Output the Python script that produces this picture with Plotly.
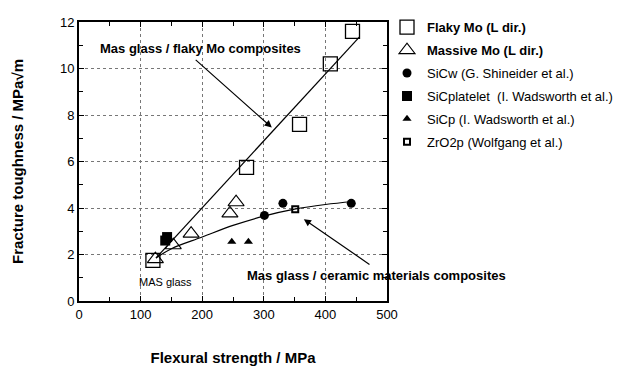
import plotly.graph_objects as go

# ---- data ----
flaky_x = [120, 272, 358, 408, 444]
flaky_y = [1.75, 5.75, 7.6, 10.2, 11.6]

massive_x = [124, 153, 182, 245, 255]
massive_y = [1.8, 2.4, 2.9, 3.77, 4.25]

sicw_x = [301, 331, 442]
sicw_y = [3.68, 4.2, 4.2]

sicplt_x = [140, 143]
sicplt_y = [2.6, 2.75]

sicp_x = [248, 275]
sicp_y = [2.55, 2.55]

zro2_x = [351]
zro2_y = [3.95]

flaky_fit_x = [125, 455]
flaky_fit_y = [1.85, 11.35]

ceramic_fit_x = [125, 150, 200, 250, 300, 350, 400, 445]
ceramic_fit_y = [1.85, 2.25, 2.75, 3.25, 3.65, 3.95, 4.15, 4.28]

x_ticks = [0, 100, 200, 300, 400, 500]
y_ticks = [0, 2, 4, 6, 8, 10, 12]

FONT = "Liberation Sans, Arial, sans-serif"

fig = go.Figure()

fig.add_trace(go.Scatter(x=flaky_fit_x, y=flaky_fit_y, mode="lines",
                         line=dict(color="black", width=1.2), showlegend=False, hoverinfo="skip"))
fig.add_trace(go.Scatter(x=ceramic_fit_x, y=ceramic_fit_y, mode="lines",
                         line=dict(color="black", width=1.2, shape="spline"), showlegend=False, hoverinfo="skip"))

fig.add_trace(go.Scatter(x=flaky_x, y=flaky_y, mode="markers", name="<b>Flaky Mo (L dir.)</b>",
                         legendgroup="g1",
                         marker=dict(symbol="square-open", size=14, color="black", line=dict(width=1.3))))
fig.add_trace(go.Scatter(x=massive_x, y=massive_y, mode="markers", name="<b>Massive Mo (L dir.)</b>",
                         legendgroup="g2",
                         marker=dict(symbol="triangle-up-open", size=14, color="black", line=dict(width=1.1))))
fig.add_trace(go.Scatter(x=sicw_x, y=sicw_y, mode="markers", name="SiCw (G. Shineider et al.)",
                         legendgroup="g3",
                         marker=dict(symbol="circle", size=9, color="black")))
fig.add_trace(go.Scatter(x=sicplt_x, y=sicplt_y, mode="markers", name="SiCplatelet  (I. Wadsworth et al.)",
                         legendgroup="g4",
                         marker=dict(symbol="square", size=10, color="black")))
fig.add_trace(go.Scatter(x=sicp_x, y=sicp_y, mode="markers", name="SiCp (I. Wadsworth et al.)",
                         legendgroup="g5",
                         marker=dict(symbol="triangle-up", size=8, color="black")))
fig.add_trace(go.Scatter(x=zro2_x, y=zro2_y, mode="markers", name="ZrO2p (Wolfgang et al.)",
                         legendgroup="g6",
                         marker=dict(symbol="square-open", size=6, color="black", line=dict(width=2))))

axis_common = dict(
    showline=True, linecolor="black", linewidth=2, mirror="allticks",
    ticks="inside", ticklen=5, tickcolor="black", tickwidth=1,
    showgrid=True, gridcolor="#777", griddash="dot", gridwidth=1,
    zeroline=False, automargin=False,
    tickfont=dict(family=FONT, size=13, color="black"),
)

fig.update_xaxes(range=[0, 500], tickvals=x_ticks, **axis_common,
                 minor=dict(ticks="inside", dtick=50, ticklen=4, tickcolor="black", showgrid=False),
                 title=dict(text="<b>Flexural strength / MPa</b>", standoff=36,
                            font=dict(family=FONT, size=15, color="black")))
fig.update_yaxes(range=[0, 12], tickvals=y_ticks, **axis_common,
                 minor=dict(ticks="inside", dtick=1, ticklen=4, tickcolor="black", showgrid=False),
                 title=dict(text="<b>Fracture toughness / MPa√m</b>", standoff=33,
                            font=dict(family=FONT, size=15, color="black")))

ann_font_b = dict(family=FONT, size=13, color="black")
fig.add_annotation(x=197, y=10.85, text="<b>Mas glass / flaky Mo composites</b>", showarrow=False,
                   font=ann_font_b, xanchor="center", yanchor="middle")
fig.add_annotation(x=313, y=7.46, ax=187, ay=10.43, axref="x", ayref="y", text="",
                   showarrow=True, arrowhead=2, arrowsize=1.2, arrowwidth=1.2, arrowcolor="black")
fig.add_annotation(x=269, y=1.1, text="<b>Mas glass / ceramic materials composites</b>", showarrow=False,
                   font=ann_font_b, xanchor="left", yanchor="middle")
fig.add_annotation(x=365, y=3.52, ax=474, ay=1.53, axref="x", ayref="y", text="",
                   showarrow=True, arrowhead=2, arrowsize=1.2, arrowwidth=1.2, arrowcolor="black")
fig.add_annotation(x=140, y=0.8, text="MAS glass", showarrow=False,
                   font=dict(family=FONT, size=11, color="black"))

fig.update_layout(
    width=630, height=366,
    margin=dict(l=79, r=241, t=18, b=65),
    plot_bgcolor="white", paper_bgcolor="white",
    font=dict(family=FONT, color="black"),
    legend=dict(x=1.0, y=1.035, xanchor="left", yanchor="top",
                font=dict(family=FONT, size=13, color="black"),
                itemwidth=30, tracegroupgap=3, bgcolor="rgba(0,0,0,0)"),
)

fig.write_html("out.html")
